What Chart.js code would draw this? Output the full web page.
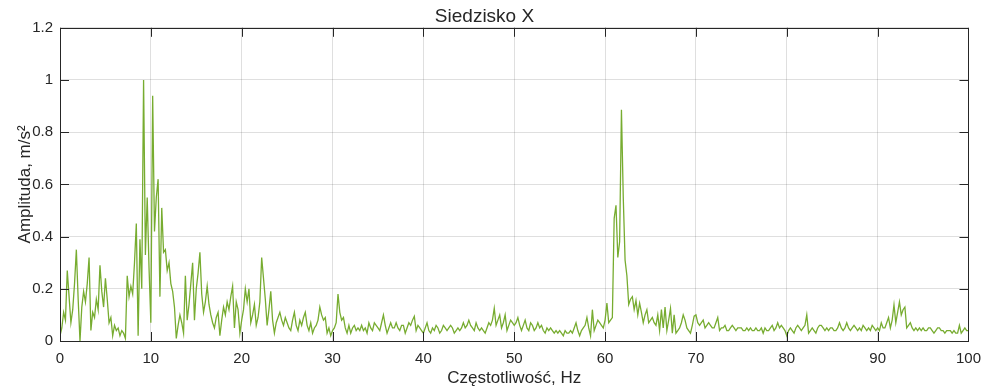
<!DOCTYPE html>
<html>
<head>
<meta charset="utf-8">
<title>Siedzisko X</title>
<script src="https://cdn.jsdelivr.net/npm/chart.js@4.4.1/dist/chart.umd.min.js"></script>
<style>
  html, body { margin: 0; padding: 0; background: #fff; }
  #spectrum { display: block; }
</style>
</head>
<body>
<canvas id="spectrum" width="990" height="392"></canvas>
<script>
// === Amplitude spectrum, seat X axis ===
// Values sampled every 0.2 Hz, one array per 10 Hz band

const FREQ_STEP = 0.2;

const amp0to10 = [
  0.02, 0.05, 0.11, 0.08, 0.27,  0.17, 0.07, 0.12, 0.22, 0.35,
  0.16, 0.00, 0.13, 0.19, 0.15,  0.22, 0.32, 0.04, 0.11, 0.09,
  0.16, 0.12, 0.29, 0.19, 0.13,  0.24, 0.16, 0.07, 0.09, 0.02,
  0.06, 0.04, 0.05, 0.02, 0.04,  0.03, 0.01, 0.25, 0.17, 0.21,
  0.18, 0.30, 0.45, 0.02, 0.39,  0.20, 1.00, 0.33, 0.55, 0.28
];
const amp10to20 = [
  0.07, 0.94, 0.42, 0.55, 0.62,  0.17, 0.51, 0.34, 0.35, 0.27,
  0.30, 0.22, 0.19, 0.13, 0.01,  0.06, 0.10, 0.07, 0.03, 0.25,
  0.08, 0.14, 0.22, 0.30, 0.08,  0.20, 0.26, 0.34, 0.18, 0.11,
  0.15, 0.21, 0.14, 0.10, 0.07,  0.05, 0.09, 0.11, 0.02, 0.08,
  0.13, 0.10, 0.15, 0.12, 0.17,  0.21, 0.05, 0.15, 0.12, 0.03
];
const amp20to30 = [
  0.08, 0.12, 0.20, 0.15, 0.20,  0.07, 0.10, 0.14, 0.06, 0.09,
  0.15, 0.32, 0.24, 0.16, 0.06,  0.12, 0.19, 0.08, 0.03, 0.07,
  0.09, 0.11, 0.08, 0.06, 0.09,  0.07, 0.05, 0.04, 0.08, 0.11,
  0.06, 0.04, 0.08, 0.06, 0.09,  0.11, 0.06, 0.04, 0.07, 0.03,
  0.05, 0.06, 0.08, 0.13, 0.10,  0.08, 0.09, 0.03, 0.05, 0.02
];
const amp30to40 = [
  0.04, 0.05, 0.07, 0.18, 0.11,  0.08, 0.09, 0.05, 0.03, 0.06,
  0.03, 0.05, 0.06, 0.04, 0.05,  0.04, 0.06, 0.04, 0.05, 0.03,
  0.07, 0.05, 0.04, 0.07, 0.06,  0.05, 0.04, 0.07, 0.10, 0.06,
  0.03, 0.05, 0.07, 0.05, 0.05,  0.07, 0.05, 0.04, 0.06, 0.06,
  0.03, 0.05, 0.07, 0.06, 0.08,  0.095, 0.04, 0.06, 0.05, 0.04
];
const amp40to50 = [
  0.03, 0.05, 0.07, 0.04, 0.03,  0.05, 0.04, 0.06, 0.05, 0.03,
  0.04, 0.06, 0.05, 0.04, 0.05,  0.06, 0.05, 0.03, 0.04, 0.05,
  0.04, 0.05, 0.07, 0.05, 0.06,  0.08, 0.06, 0.05, 0.04, 0.07,
  0.05, 0.04, 0.05, 0.04, 0.03,  0.05, 0.07, 0.06, 0.08, 0.125,
  0.06, 0.08, 0.10, 0.05, 0.07,  0.10, 0.04, 0.06, 0.08, 0.07
];
const amp50to60 = [
  0.06, 0.07, 0.09, 0.06, 0.04,  0.06, 0.08, 0.05, 0.04, 0.07,
  0.06, 0.04, 0.05, 0.07, 0.05,  0.06, 0.04, 0.03, 0.05, 0.04,
  0.05, 0.04, 0.03, 0.04, 0.03,  0.04, 0.03, 0.02, 0.04, 0.03,
  0.03, 0.04, 0.03, 0.05, 0.07,  0.04, 0.02, 0.04, 0.05, 0.06,
  0.09, 0.05, 0.02, 0.12, 0.04,  0.06, 0.08, 0.07, 0.06, 0.05
];
const amp60to70 = [
  0.08, 0.145, 0.07, 0.08, 0.09,  0.47, 0.52, 0.32, 0.38, 0.886,
  0.55, 0.31, 0.25, 0.14, 0.16,  0.17, 0.12, 0.155, 0.10, 0.145,
  0.11, 0.07, 0.10, 0.12, 0.07,  0.08, 0.09, 0.07, 0.06, 0.10,
  0.04, 0.12, 0.05, 0.13, 0.04,  0.08, 0.125, 0.03, 0.10, 0.03,
  0.04, 0.05, 0.07, 0.10, 0.08,  0.05, 0.04, 0.03, 0.06, 0.095
];
const amp70to80 = [
  0.10, 0.07, 0.06, 0.07, 0.08,  0.05, 0.06, 0.07, 0.06, 0.05,
  0.05, 0.07, 0.09, 0.04, 0.05,  0.05, 0.06, 0.04, 0.04, 0.05,
  0.06, 0.05, 0.04, 0.05, 0.05,  0.05, 0.04, 0.04, 0.05, 0.04,
  0.05, 0.04, 0.04, 0.05, 0.04,  0.04, 0.05, 0.03, 0.05, 0.04,
  0.04, 0.05, 0.06, 0.04, 0.05,  0.07, 0.05, 0.06, 0.05, 0.04
];
const amp80to90 = [
  0.02, 0.04, 0.05, 0.04, 0.03,  0.05, 0.06, 0.05, 0.04, 0.05,
  0.06, 0.10, 0.03, 0.04, 0.05,  0.04, 0.03, 0.05, 0.06, 0.06,
  0.05, 0.04, 0.05, 0.04, 0.05,  0.05, 0.04, 0.04, 0.05, 0.07,
  0.05, 0.04, 0.05, 0.07, 0.05,  0.04, 0.05, 0.06, 0.05, 0.04,
  0.05, 0.04, 0.06, 0.05, 0.04,  0.05, 0.04, 0.06, 0.05, 0.04
];
const amp90to100 = [
  0.05, 0.04, 0.07, 0.05, 0.05,  0.07, 0.09, 0.05, 0.08, 0.138,
  0.07, 0.11, 0.15, 0.10, 0.12,  0.13, 0.05, 0.06, 0.07, 0.05,
  0.04, 0.05, 0.04, 0.05, 0.04,  0.05, 0.04, 0.04, 0.05, 0.05,
  0.04, 0.03, 0.04, 0.05, 0.05,  0.04, 0.04, 0.03, 0.04, 0.04,
  0.04, 0.03, 0.04, 0.03, 0.03,  0.06, 0.03, 0.04, 0.05, 0.04,
  0.04
];

const xTicks = [0, 10, 20, 30, 40, 50, 60, 70, 80, 90, 100];
const yTicks = [0, 0.2, 0.4, 0.6, 0.8, 1, 1.2];

const amplitude = [].concat(
  amp0to10, amp10to20, amp20to30, amp30to40, amp40to50,
  amp50to60, amp60to70, amp70to80, amp80to90, amp90to100
);
const points = amplitude.map((a, i) => ({ x: +(i * FREQ_STEP).toFixed(1), y: a }));

const INK = "#262626";
const TICK_LEN = 9;

// axes box on all four sides with inward tick marks
const boxTicks = {
  id: "boxTicks",
  afterDatasetsDraw(chart) {
    const { ctx, chartArea: a, scales: { x, y } } = chart;
    ctx.save();
    ctx.strokeStyle = INK;
    ctx.lineWidth = 1;
    ctx.beginPath();
    x.ticks.forEach(t => {
      const px = Math.round(x.getPixelForValue(t.value)) + 0.5;
      ctx.moveTo(px, a.bottom); ctx.lineTo(px, a.bottom - TICK_LEN);
      ctx.moveTo(px, a.top); ctx.lineTo(px, a.top + TICK_LEN);
    });
    y.ticks.forEach(t => {
      const py = Math.round(y.getPixelForValue(t.value)) + 0.5;
      ctx.moveTo(a.left, py); ctx.lineTo(a.left + TICK_LEN, py);
      ctx.moveTo(a.right, py); ctx.lineTo(a.right - TICK_LEN, py);
    });
    ctx.stroke();
    ctx.strokeRect(Math.round(a.left) + 0.5, Math.round(a.top) + 0.5,
      Math.round(a.right - a.left), Math.round(a.bottom - a.top));
    ctx.restore();
  }
};

Chart.defaults.font.family = "'Liberation Sans', Arial, Helvetica, sans-serif";
Chart.defaults.color = INK;

new Chart(document.getElementById("spectrum"), {
  type: "line",
  data: {
    datasets: [{
      data: points,
      borderColor: "#77ac30",
      borderWidth: 1.3,
      pointRadius: 0,
      tension: 0,
      fill: false
    }]
  },
  options: {
    responsive: false,
    animation: false,
    events: [],
    layout: { padding: { top: 0, right: 21, bottom: 0, left: 0 } },
    plugins: {
      legend: { display: false },
      tooltip: { enabled: false },
      title: {
        display: true,
        text: "Siedzisko X",
        color: INK,
        font: { size: 19, weight: "normal" },
        padding: { top: 5, bottom: 0 }
      }
    },
    scales: {
      x: {
        type: "linear",
        min: 0,
        max: 100,
        afterBuildTicks: s => { s.ticks = xTicks.map(v => ({ value: v })); },
        afterFit: s => { s.height = 51; },
        ticks: { font: { size: 15 }, padding: 9, maxRotation: 0 },
        grid: { color: "rgba(38,38,38,0.15)", drawTicks: false },
        border: { display: false },
        title: {
          display: true,
          text: "Częstotliwość, Hz",
          font: { size: 17 },
          padding: { bottom: 3 }
        }
      },
      y: {
        min: 0,
        max: 1.2,
        afterBuildTicks: s => { s.ticks = yTicks.map(v => ({ value: v })); },
        afterFit: s => { s.width = 60; },
        ticks: {
          font: { size: 15 },
          padding: 7,
          callback: v => String(+v.toFixed(1))
        },
        grid: { color: "rgba(38,38,38,0.15)", drawTicks: false },
        border: { display: false },
        title: {
          display: true,
          text: "Amplituda, m/s²",
          font: { size: 17 },
          padding: { top: 15 }
        }
      }
    }
  },
  plugins: [boxTicks]
});
</script>
</body>
</html>
